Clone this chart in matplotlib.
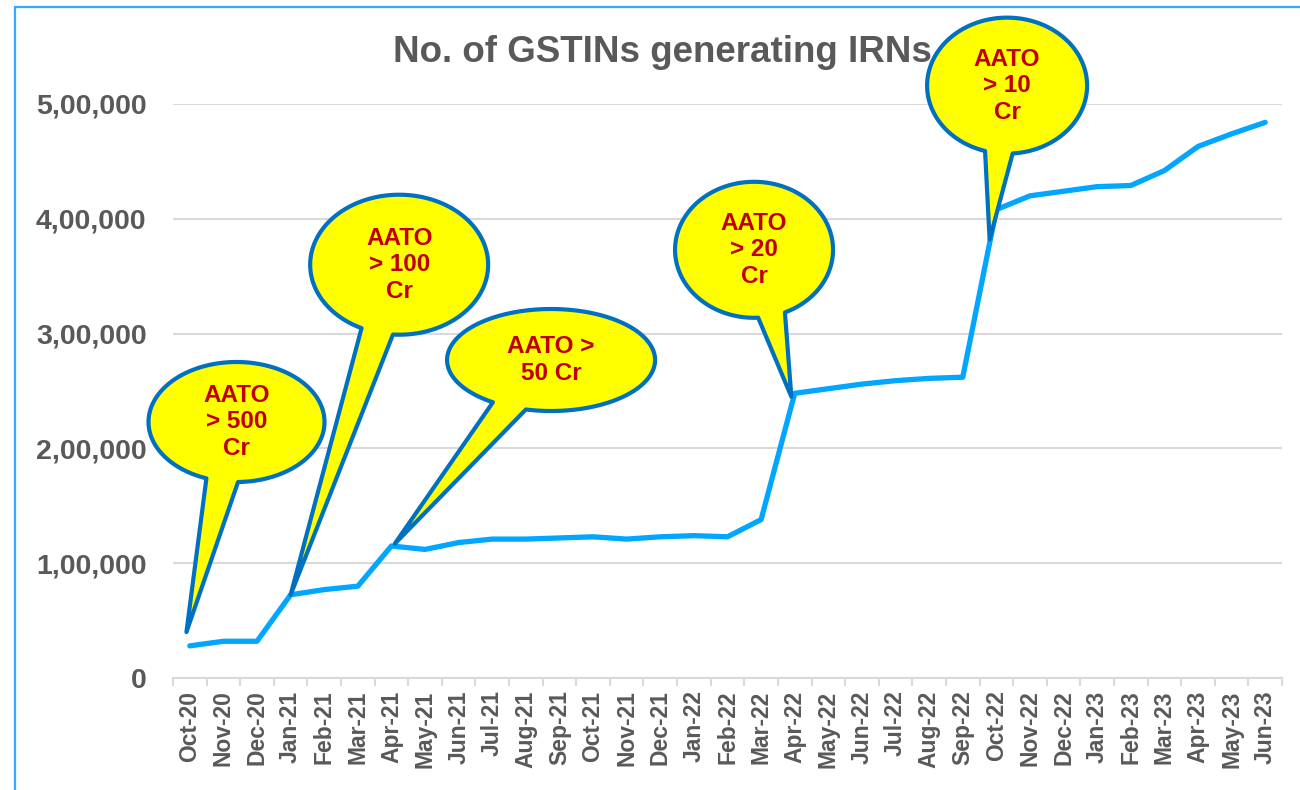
import numpy as np
import matplotlib
matplotlib.use('Agg')
import matplotlib.pyplot as plt
from matplotlib.path import Path
from matplotlib.patches import PathPatch, Rectangle
from matplotlib.transforms import IdentityTransform
from matplotlib.ticker import FuncFormatter, FixedLocator

plt.rcParams['font.family'] = ['Liberation Sans', 'DejaVu Sans']

# Data
months = ['Oct-20', 'Nov-20', 'Dec-20', 'Jan-21', 'Feb-21', 'Mar-21', 'Apr-21', 'May-21',
          'Jun-21', 'Jul-21', 'Aug-21', 'Sep-21', 'Oct-21', 'Nov-21', 'Dec-21', 'Jan-22',
          'Feb-22', 'Mar-22', 'Apr-22', 'May-22', 'Jun-22', 'Jul-22', 'Aug-22', 'Sep-22',
          'Oct-22', 'Nov-22', 'Dec-22', 'Jan-23', 'Feb-23', 'Mar-23', 'Apr-23', 'May-23',
          'Jun-23']
gstins = [28000, 32000, 32000, 72500, 77000, 80000, 115000, 112000,
          118000, 121000, 121000, 122000, 123000, 121000, 123000, 124000,
          123000, 138000, 248000, 252000, 256000, 259000, 261000, 262000,
          408000, 420000, 424000, 428000, 429000, 442000, 463000, 474000,
          484000]
y_ticks = [0, 100000, 200000, 300000, 400000, 500000]

# Callouts: text, tip (month index, value)
callout_text = ['AATO\n> 500\nCr', 'AATO\n> 100\nCr', 'AATO >\n50 Cr', 'AATO\n> 20\nCr', 'AATO\n> 10\nCr']
callout_tip_x = [-0.1, 3.0, 6.1, 17.9, 23.8]
callout_tip_y = [40000, 72500, 117000, 245000, 382000]

# bubble layout: centre (index, value), semi-axes in px, tail gap angles in degrees
bubble_cx = [1.39, 6.23, 10.75, 16.79, 24.32]
bubble_cy = [223000, 360000, 277000, 373000, 516000]
bubble_ab = [(88, 60), (89, 70), (104, 51), (79, 68), (80, 68)]
bubble_gap = [(-110, -89), (-115, -94), (-124, -104), (-87, -67), (-106, -86)]

W, H = 1300, 790
grey = '#595959'
grid_col = '#D9D9D9'

fig = plt.figure(figsize=(W / 100, H / 100), dpi=100)
ax = fig.add_axes([173 / W, (H - 678) / H, (1282 - 173) / W, (678 - 104) / H])

x = np.arange(len(months))
ax.plot(x, gstins, color='#00A6FF', lw=3.8, solid_capstyle='round', solid_joinstyle='round', zorder=3)

ax.set_xlim(-0.5, len(months) - 0.5)
ax.set_ylim(0, 500000)

# y axis in Indian number format
def indian(v, pos=None):
    v = int(round(v))
    if v == 0:
        return '0'
    s = str(v)
    last3 = s[-3:]
    rest = s[:-3]
    parts = []
    while len(rest) > 2:
        parts.insert(0, rest[-2:])
        rest = rest[:-2]
    if rest:
        parts.insert(0, rest)
    return ','.join(parts + [last3])

ax.yaxis.set_major_locator(FixedLocator(y_ticks))
ax.yaxis.set_major_formatter(FuncFormatter(indian))
ax.tick_params(axis='y', length=0, pad=19, labelsize=20.5, labelcolor=grey)
for lab in ax.get_yticklabels():
    lab.set_fontweight('bold')

ax.set_xticks(x)
ax.set_xticklabels(months, rotation=90, fontsize=16.5, fontweight='bold', color=grey)
ax.set_xticks(np.arange(-0.5, len(months)), minor=True)
ax.tick_params(axis='x', which='major', length=0, pad=9)
ax.tick_params(axis='x', which='minor', length=6, width=1.5, color=grid_col)

ax.grid(axis='y', color=grid_col, lw=1.5, zorder=0)
ax.set_axisbelow(True)
for side in ['top', 'right', 'left']:
    ax.spines[side].set_visible(False)
ax.spines['bottom'].set_color(grid_col)
ax.spines['bottom'].set_linewidth(1.5)

# title sits under the callouts
ax.text(662 / W, (H - 62) / H, 'No. of GSTINs generating IRNs', transform=fig.transFigure,
        ha='center', va='baseline', fontsize=26.5, fontweight='bold', color=grey,
        clip_on=False, zorder=1)

# speech bubbles, built in pixel space
fig.canvas.draw()
for i, txt in enumerate(callout_text):
    cx, cy = ax.transData.transform((bubble_cx[i], bubble_cy[i]))
    tx, ty = ax.transData.transform((callout_tip_x[i], callout_tip_y[i]))
    a, b = bubble_ab[i]
    t1, t2 = np.radians(bubble_gap[i][0]), np.radians(bubble_gap[i][1])
    ang = np.linspace(t2, t1 + 2 * np.pi, 160)
    verts = [(cx + a * np.cos(t), cy + b * np.sin(t)) for t in ang]
    verts.append((tx, ty))
    verts.append(verts[0])
    codes = [Path.MOVETO] + [Path.LINETO] * (len(verts) - 2) + [Path.CLOSEPOLY]
    patch = PathPatch(Path(verts, codes), facecolor='#FFFF00', edgecolor='#0070C0',
                      lw=3, joinstyle='round', transform=IdentityTransform(),
                      clip_on=False, zorder=5 + i)
    ax.add_artist(patch)
    ax.text(cx, cy, txt, transform=IdentityTransform(), ha='center', va='center',
            fontsize=17.5, fontweight='bold', color='#C00000', linespacing=1.2,
            zorder=5.5 + i, clip_on=False)

# thin blue frame (top and left edges visible)
fig.add_artist(Rectangle((15 / W, -0.05), 1.1, (H - 7) / H + 0.05, transform=fig.transFigure,
                         fill=False, edgecolor='#33A8FF', lw=1.6))

fig.savefig('out.png', dpi=100)
